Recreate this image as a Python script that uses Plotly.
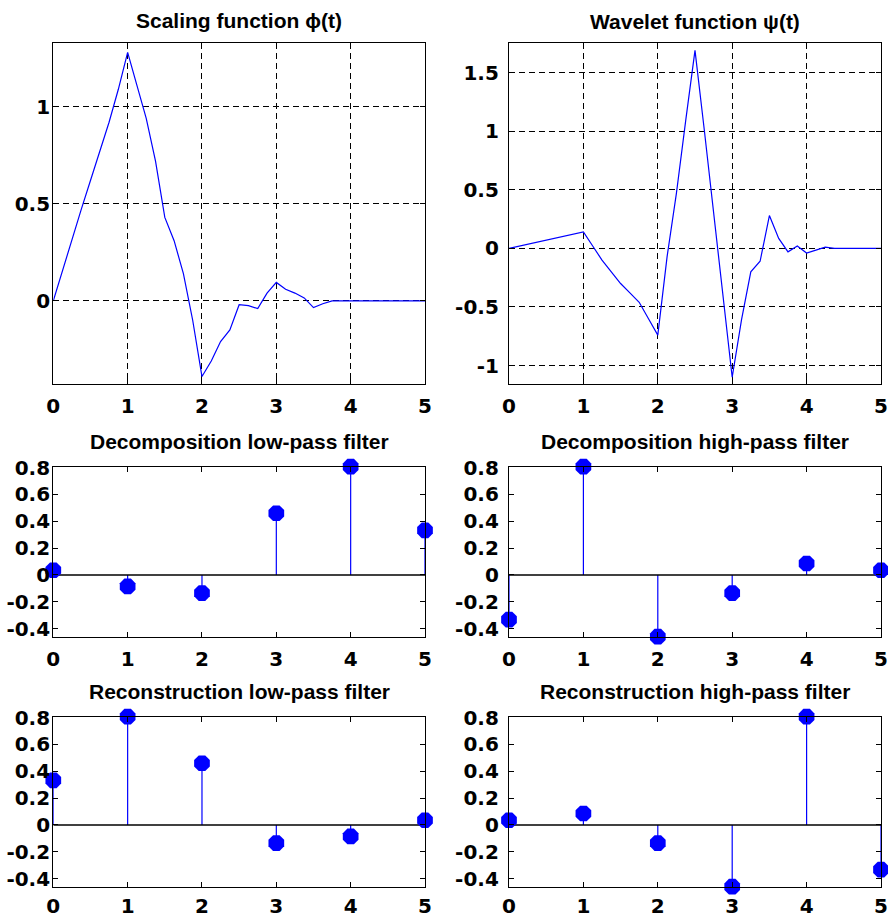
import plotly.graph_objects as go

# ---- data ----
t_phi = [i * 0.125 for i in range(41)]
phi = [0.0, 0.16, 0.31, 0.47, 0.62, 0.77, 0.92, 1.09, 1.28,
       1.11, 0.94, 0.72, 0.43, 0.31, 0.14, -0.10, -0.39,
       -0.31, -0.21, -0.15, -0.02, -0.025, -0.04, 0.04, 0.095,
       0.06, 0.04, 0.015, -0.035, -0.015, 0.0, 0.0, 0.0,
       0.0, 0.0, 0.0, 0.0, 0.0, 0.0, 0.0, 0.0]

t_psi = [i * 0.125 for i in range(41)]
psi = [0.0, 0.017, 0.034, 0.051, 0.068, 0.085, 0.102, 0.119, 0.14,
       0.02, -0.10, -0.20, -0.30, -0.38, -0.46, -0.60, -0.74,
       -0.07, 0.47, 1.09, 1.69, 1.01, 0.30, -0.44, -1.10,
       -0.61, -0.20, -0.11, 0.28, 0.085, -0.03, 0.02, -0.04,
       -0.015, 0.01, 0.0, 0.0, 0.0, 0.0, 0.0, 0.0]

n = [0, 1, 2, 3, 4, 5]
lo_d = [0.0352, -0.0854, -0.1350, 0.4599, 0.8069, 0.3327]
hi_d = [-0.3327, 0.8069, -0.4599, -0.1350, 0.0854, 0.0352]
lo_r = [0.3327, 0.8069, 0.4599, -0.1350, -0.0854, 0.0352]
hi_r = [0.0352, 0.0854, -0.1350, -0.4599, 0.8069, -0.3327]

titles = ["Scaling function \u03d5(t)", "Wavelet function \u03c8(t)",
          "Decomposition low-pass filter", "Decomposition high-pass filter",
          "Reconstruction low-pass filter", "Reconstruction high-pass filter"]

W, H = 888, 917
BLUE = "#0000ff"
TFONT = "Liberation Sans"
KFONT = "DejaVu Sans"

# pixel boxes (left, top, right, bottom)
boxes = [
    (53.3, 42.7, 425.0, 384.3),
    (509.0, 43.3, 881.0, 384.3),
    (53.3, 466.7, 425.0, 636.7),
    (509.0, 466.7, 881.0, 636.7),
    (53.3, 716.7, 425.0, 886.7),
    (509.0, 716.7, 881.0, 886.7),
]
title_off = [22, 22, 25, 25, 25, 25]

fig = go.Figure()

def stem(x, y, ax):
    xs, ys = [], []
    for a, b in zip(x, y):
        xs += [a, a, None]
        ys += [0, b, None]
    fig.add_trace(go.Scatter(x=xs, y=ys, mode="lines", line=dict(color=BLUE, width=1.2),
                             xaxis="x" + ax, yaxis="y" + ax, showlegend=False, hoverinfo="skip"))
    fig.add_trace(go.Scatter(x=[min(x), max(x)], y=[0, 0], mode="lines",
                             line=dict(color="black", width=1.5),
                             xaxis="x" + ax, yaxis="y" + ax, showlegend=False, hoverinfo="skip"))
    fig.add_trace(go.Scatter(x=x, y=y, mode="markers", cliponaxis=False,
                             marker=dict(color=BLUE, size=17, symbol="octagon",
                                         line=dict(width=0)),
                             xaxis="x" + ax, yaxis="y" + ax, showlegend=False))

fig.add_trace(go.Scatter(x=t_phi, y=phi, mode="lines", line=dict(color=BLUE, width=1.2),
                         xaxis="x", yaxis="y", showlegend=False))
fig.add_trace(go.Scatter(x=t_psi, y=psi, mode="lines", line=dict(color=BLUE, width=1.2),
                         xaxis="x2", yaxis="y2", showlegend=False))
stem(n, lo_d, "3")
stem(n, hi_d, "4")
stem(n, lo_r, "5")
stem(n, hi_r, "6")

yranges = [[-0.43, 1.33], [-1.16, 1.75]] + [[-0.4599, 0.8069]] * 4
ytickv = [[0, 0.5, 1], [-1, -0.5, 0, 0.5, 1, 1.5]] + [[-0.4, -0.2, 0, 0.2, 0.4, 0.6, 0.8]] * 4
ytickt = [["0", "0.5", "1"], ["-1", "-0.5", "0", "0.5", "1", "1.5"]] + \
         [["-0.4", "-0.2", "0", "0.2", "0.4", "0.6", "0.8"]] * 4

layout = dict(width=W, height=H, margin=dict(l=0, r=0, t=0, b=0),
              paper_bgcolor="white", plot_bgcolor="white",
              font=dict(family=KFONT, color="black", size=20))
annotations = []
for i, (l, tp, r, b) in enumerate(boxes):
    k = "" if i == 0 else str(i + 1)
    grid = i < 2
    common = dict(showline=True, linecolor="black", linewidth=1.3, mirror="allticks",
                  ticks="inside", ticklen=5, tickcolor="black", tickwidth=1,
                  zeroline=False, showgrid=grid, gridcolor="black", griddash="6px,4px",
                  gridwidth=1, automargin=False,
                  tickfont=dict(family=KFONT, size=20, color="black", weight="bold"))
    layout["xaxis" + k] = dict(domain=[l / W, r / W], range=[0, 5], anchor="y" + k,
                               tickvals=n, ticktext=[str(v) for v in n],
                               ticklabelstandoff=(4 if i < 4 else 1), **common)
    layout["yaxis" + k] = dict(domain=[1 - b / H, 1 - tp / H], range=yranges[i], anchor="x" + k,
                               tickvals=ytickv[i], ticktext=ytickt[i],
                               ticklabelstandoff=(-2 if i % 2 == 0 else 5), **common)
    annotations.append(dict(text="<b>" + titles[i] + "</b>", x=(l + r) / 2 / W,
                            y=1 - (tp - title_off[i]) / H, xref="paper", yref="paper",
                            showarrow=False, xanchor="center", yanchor="middle",
                            font=dict(family=TFONT, size=21, color="black")))
layout["annotations"] = annotations
fig.update_layout(**layout)
fig.write_html("out.html")
